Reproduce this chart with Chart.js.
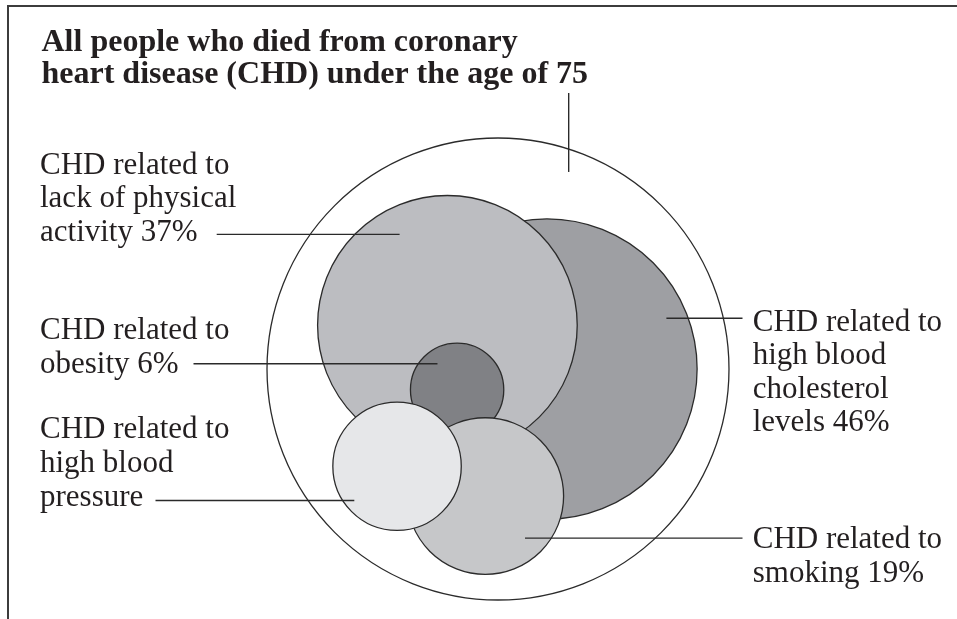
<!DOCTYPE html>
<html><head><meta charset="utf-8">
<script src="https://cdn.jsdelivr.net/npm/chart.js@4.4.0/dist/chart.umd.min.js"></script>
<style>html,body{margin:0;padding:0;background:#fff;}#wrap{width:957px;height:619px;}</style>
</head><body><div id="wrap"><canvas id="c" width="957" height="619"></canvas></div>
<script>
// ---- data ----
const categories = [
  'All people who died from coronary heart disease (CHD) under the age of 75',
  'CHD related to high blood cholesterol levels',
  'CHD related to lack of physical activity',
  'CHD related to obesity',
  'CHD related to smoking',
  'CHD related to high blood pressure'
];
const percentages = [100, 46, 37, 6, 19, null];
// circle geometry in diagram units (outer circle = radius 100)
const circleX = [0, 21.2, -21.9, -17.7, -5.5, -43.7];
const circleY = [0, 0.0, 18.9, -9.0, -55.0, -42.1];
const circleR = [100, 65.0, 56.2, 20.2, 33.9, 27.8];
// leader-line anchor points inside each circle (diagram units)
const anchorX = [30.6, 72.9, -42.6, -26.2, 11.7, -62.2];
const anchorY = [85.3, 22.0, 58.3, 2.3, -73.2, -56.9];
// label text lines
const titleLines = ['All people who died from coronary', 'heart disease (CHD) under the age of 75'];
const labelLines = [
  null,
  ['CHD related to', 'high blood', 'cholesterol', 'levels 46%'],
  ['CHD related to', 'lack of physical', 'activity 37%'],
  ['CHD related to', 'obesity 6%'],
  ['CHD related to', 'smoking 19%'],
  ['CHD related to', 'high blood', 'pressure']
];

// ---- styles / layout ----
const fills = ['#ffffff', '#9e9fa3', '#bcbdc1', '#808185', '#c6c7c9', '#e6e7e9'];
const textLayout = [
  {x: 41.5, y: [50.7, 82.7], side: 'top', leaderTo: 93},
  {x: 752.7, y: [331, 364.3, 397.6, 431], side: 'right', leaderTo: 742.5},
  {x: 40, y: [173.5, 207.3, 241], side: 'left', leaderTo: 216.7},
  {x: 40, y: [339.3, 373.3], side: 'left', leaderTo: 193.5},
  {x: 752.7, y: [548.3, 582], side: 'right', leaderTo: 742.5},
  {x: 40, y: [438.3, 472.2, 506], side: 'left', leaderTo: 155.5}
];
const INK = '#231f20';
const PX = 2.31, CX = 498, CY = 369;   // pixels per diagram unit, centre of outer circle

const points = categories.map((c, i) => ({x: circleX[i], y: circleY[i], r: circleR[i] * PX}));

// keep the chart area as the whole canvas (no automatic padding for big bubbles)
const BubbleCtrl = Chart.registry.getController('bubble');
BubbleCtrl.prototype.getMaxOverflow = function () { return 0; };

const overlay = {
  id: 'overlay',
  beforeDraw(chart) {
    const c = chart.ctx;
    c.save();
    c.fillStyle = '#fff';
    c.fillRect(0, 0, chart.width, chart.height);
    c.strokeStyle = '#3c3c3c';
    c.lineWidth = 2;
    c.beginPath();
    c.moveTo(7, 6); c.lineTo(957, 6);
    c.moveTo(8, 5); c.lineTo(8, 619);
    c.stroke();
    c.restore();
  },
  afterDatasetsDraw(chart) {
    const c = chart.ctx, sx = chart.scales.x, sy = chart.scales.y;
    c.save();
    c.strokeStyle = '#2a2a2a';
    c.lineWidth = 1.4;
    for (let i = 0; i < categories.length; i++) {
      const L = textLayout[i];
      const ax = sx.getPixelForValue(anchorX[i]);
      const ay = sy.getPixelForValue(anchorY[i]);
      c.beginPath();
      if (L.side === 'top') { c.moveTo(ax, L.leaderTo); c.lineTo(ax, ay); }
      else { c.moveTo(L.leaderTo, ay); c.lineTo(ax, ay); }
      c.stroke();
    }
    c.fillStyle = INK;
    c.textBaseline = 'alphabetic';
    c.textAlign = 'left';
    c.font = 'bold 32px "Liberation Serif", "Times New Roman", serif';
    titleLines.forEach((t, k) => c.fillText(t, textLayout[0].x, textLayout[0].y[k]));
    c.font = '31px "Liberation Serif", "Times New Roman", serif';
    for (let i = 1; i < labelLines.length; i++) {
      labelLines[i].forEach((t, k) => c.fillText(t, textLayout[i].x, textLayout[i].y[k]));
    }
    c.restore();
  }
};

new Chart(document.getElementById('c'), {
  type: 'bubble',
  data: {
    labels: categories,
    datasets: [{
      label: 'CHD deaths under 75',
      data: points,
      backgroundColor: fills,
      borderColor: '#2b2b2b',
      borderWidth: 1.3,
      hoverRadius: 0,
      clip: false
    }]
  },
  options: {
    responsive: false,
    animation: false,
    events: [],
    layout: {padding: 0},
    plugins: {legend: {display: false}, tooltip: {enabled: false}},
    scales: {
      x: {type: 'linear', display: false, min: -CX / PX, max: (957 - CX) / PX},
      y: {type: 'linear', display: false, min: -(619 - CY) / PX, max: CY / PX}
    }
  },
  plugins: [overlay]
});
</script>
</body></html>
